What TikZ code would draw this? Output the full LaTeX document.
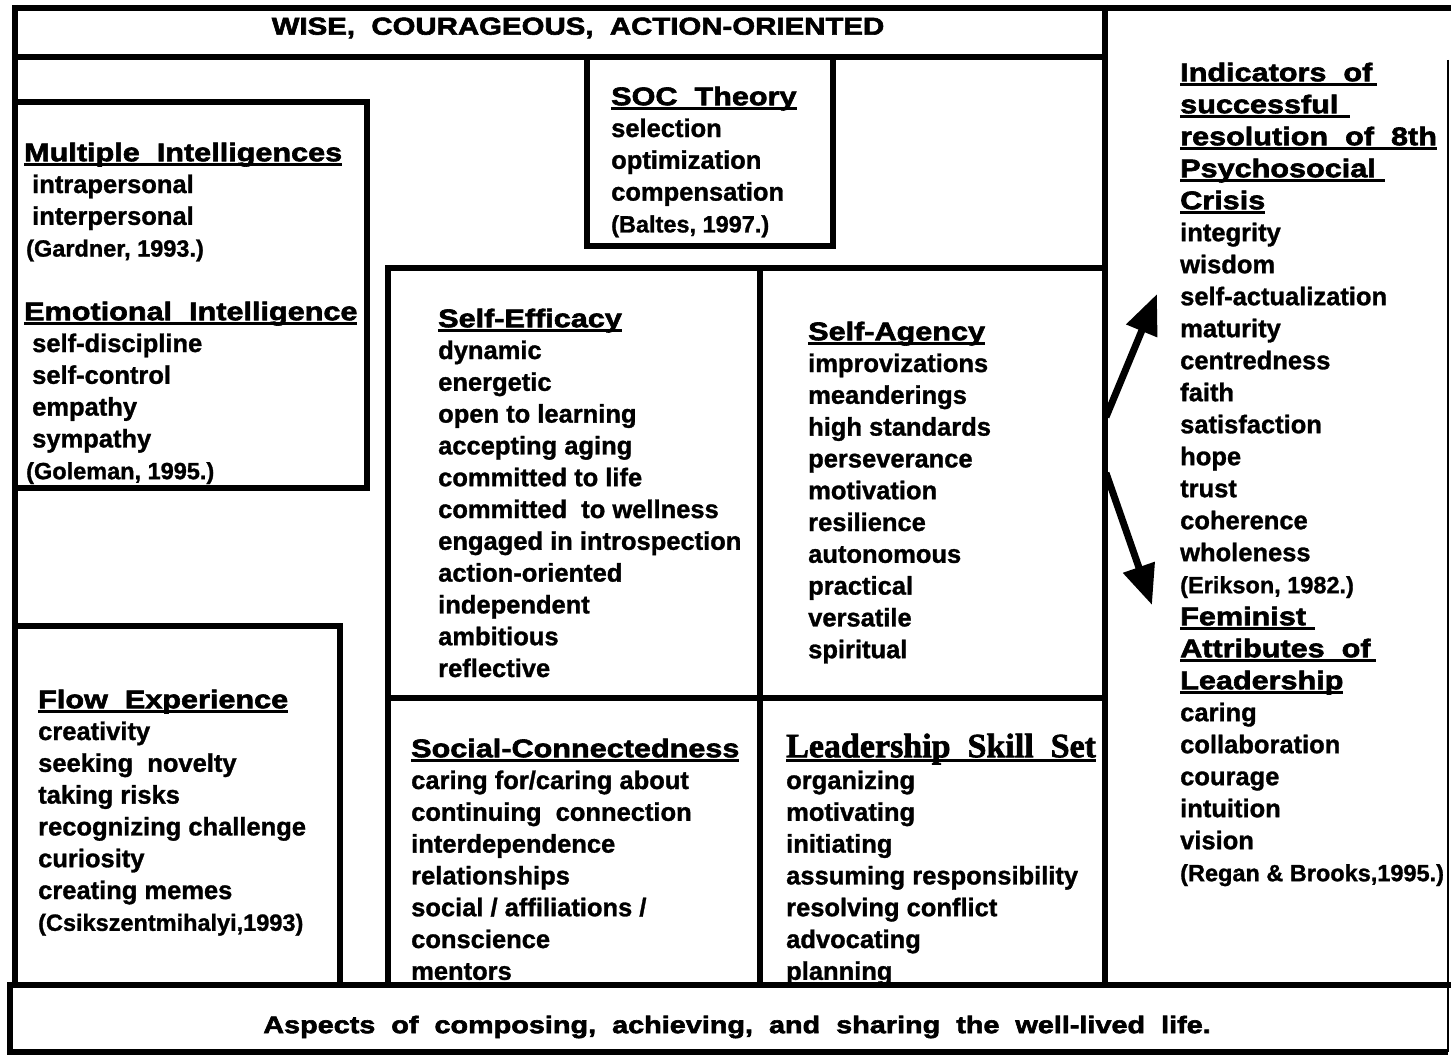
\documentclass[tikz,border=0pt]{standalone}
\usepackage{fontspec}
\setmainfont{Liberation Sans}[BoldFeatures={FakeBold=1.2}]
\newfontfamily\hfam{Liberation Sans}[FakeStretch=1.2,BoldFeatures={FakeBold=2.4}]
\newfontfamily\serfam{Liberation Serif}[BoldFeatures={FakeBold=2}]
\usetikzlibrary{arrows.meta}
\newcommand\hul[1]{\sbox0{#1}\rlap{\usebox0}\rule[-4.5pt]{\wd0}{2.5pt}}
\newcommand\hd[1]{{\hfam\bfseries\hul{#1}}}
\newcommand\ct[1]{{\fontsize{23.5}{31.8}\selectfont #1}}
\newcommand\fs{\rule{0pt}{20pt}}
\begin{document}
\begin{tikzpicture}[x=1pt,y=-1pt,
  frm/.style={line width=6pt},
  thin frm/.style={line width=2pt},
  blk/.style={anchor=north west, inner sep=0pt, align=left,
    font=\fontsize{25.5}{31.8}\selectfont\bfseries},
  rblk/.style={blk, font=\fontsize{25.5}{32}\selectfont\bfseries},
  arr/.style={line width=7pt, -{Triangle[length=40pt,width=32pt]}}]
\fill[white] (0,0) rectangle (1451,1057);
\useasboundingbox (0,0) rectangle (1451,1057);

% text blocks
\node[anchor=center, inner sep=0pt] (title) at (578,28)
  {\hfam\bfseries\fontsize{24.5}{30}\selectfont WISE,\ \ COURAGEOUS,\ \ ACTION-ORIENTED};
\node[anchor=center, inner sep=0pt] (bottom) at (737,1027)
  {\hfam\bfseries\fontsize{24}{30}\selectfont Aspects\ \ of\ \ composing,\ \ achieving,\ \ and\ \ sharing\ \ the\ \ well-lived\ \ life.};

\node[blk] (mi) at (24,141) {\fs\hd{Multiple\ \ Intelligences}\\
\hspace*{8pt}intrapersonal\\
\hspace*{8pt}interpersonal\\
\hspace*{2pt}\ct{(Gardner, 1993.)}\\
\\
\hd{Emotional\ \ Intelligence}\\
\hspace*{8pt}self-discipline\\
\hspace*{8pt}self-control\\
\hspace*{8pt}empathy\\
\hspace*{8pt}sympathy\\
\hspace*{2pt}\ct{(Goleman, 1995.)}};

\node[blk] (soc) at (611,85) {\fs\hd{SOC\ \ Theory}\\
selection\\
optimization\\
compensation\\
\ct{(Baltes, 1997.)}};

\node[blk] (se) at (438,307) {\fs\hd{Self-Efficacy}\\
dynamic\\
energetic\\
open to learning\\
accepting aging\\
committed to life\\
committed\ \ to wellness\\
engaged in introspection\\
action-oriented\\
independent\\
ambitious\\
reflective};

\node[blk] (sa) at (808,320) {\fs\hd{Self-Agency}\\
improvizations\\
meanderings\\
high standards\\
perseverance\\
motivation\\
resilience\\
autonomous\\
practical\\
versatile\\
spiritual};

\node[blk] (sc) at (411,737) {\fs\hd{Social-Connectedness}\\
caring for/caring about\\
continuing\ \ connection\\
interdependence\\
relationships\\
social / affiliations /\\
conscience\\
mentors};

\begin{scope}
\clip (760,698) rectangle (1102,995);
\node[blk] (ls) at (786,737) {\fs\smash{\serfam\bfseries\fontsize{34}{31.8}\selectfont\hul{Leadership\ \ Skill\ \ Set}}\\
organizing\\
motivating\\
initiating\\
assuming responsibility\\
resolving conflict\\
advocating\\
planning};
\end{scope}

\node[blk] (fl) at (38,688) {\fs\hd{Flow\ \ Experience}\\
creativity\\
seeking\ \ novelty\\
taking risks\\
recognizing challenge\\
curiosity\\
creating memes\\
\ct{(Csikszentmihalyi,1993)}};

\node[rblk] (rc) at (1180,61) {\fs\hd{Indicators\ \ of\hspace*{5pt}}\\
\hd{successful\hspace*{12pt}}\\
\hd{resolution\ \ of\ \ 8th}\\
\hd{Psychosocial\hspace*{9pt}}\\
\hd{Crisis}\\
integrity\\
wisdom\\
self-actualization\\
maturity\\
centredness\\
faith\\
satisfaction\\
hope\\
trust\\
coherence\\
wholeness\\
\ct{(Erikson, 1982.)}\\
\hd{Feminist\hspace*{9pt}}\\
\hd{Attributes\ \ of\hspace*{5pt}}\\
\hd{Leadership}\\
caring\\
collaboration\\
courage\\
intuition\\
vision\\
\ct{(Regan \& Brooks,1995.)}};

% frame lines
\draw[frm] (15,8) -- (1451,8);
\draw[frm] (15,5) -- (15,985);
\draw[frm] (15,57) -- (1105,57);
\draw[frm] (1105,5) -- (1105,985);
\draw[thin frm] (1448,60) -- (1448,1052);
\draw[frm] (10,985) -- (1451,985);
\draw[frm] (10,1052) -- (1448,1052);
\draw[frm] (10,982) -- (10,1055);
% Multiple intelligences box
\draw[frm] (15,102) -- (367,102) -- (367,488) -- (15,488);
% SOC box
\draw[frm] (587,57) -- (587,246) -- (833,246) -- (833,57);
% middle grid
\draw[frm] (388,985) -- (388,268) -- (1105,268);
\draw[frm] (760,268) -- (760,985);
\draw[frm] (388,698) -- (1105,698);
% flow box
\draw[frm] (15,626) -- (340,626) -- (340,985);

% arrows
\coordinate (srcU) at (1106,417);
\coordinate (srcD) at (1106,473);
\coordinate (up) at (1157,294);
\coordinate (dn) at (1152,605);
\draw[arr] (srcU) -- (up);
\draw[arr] (srcD) -- (dn);
\end{tikzpicture}
\end{document}
